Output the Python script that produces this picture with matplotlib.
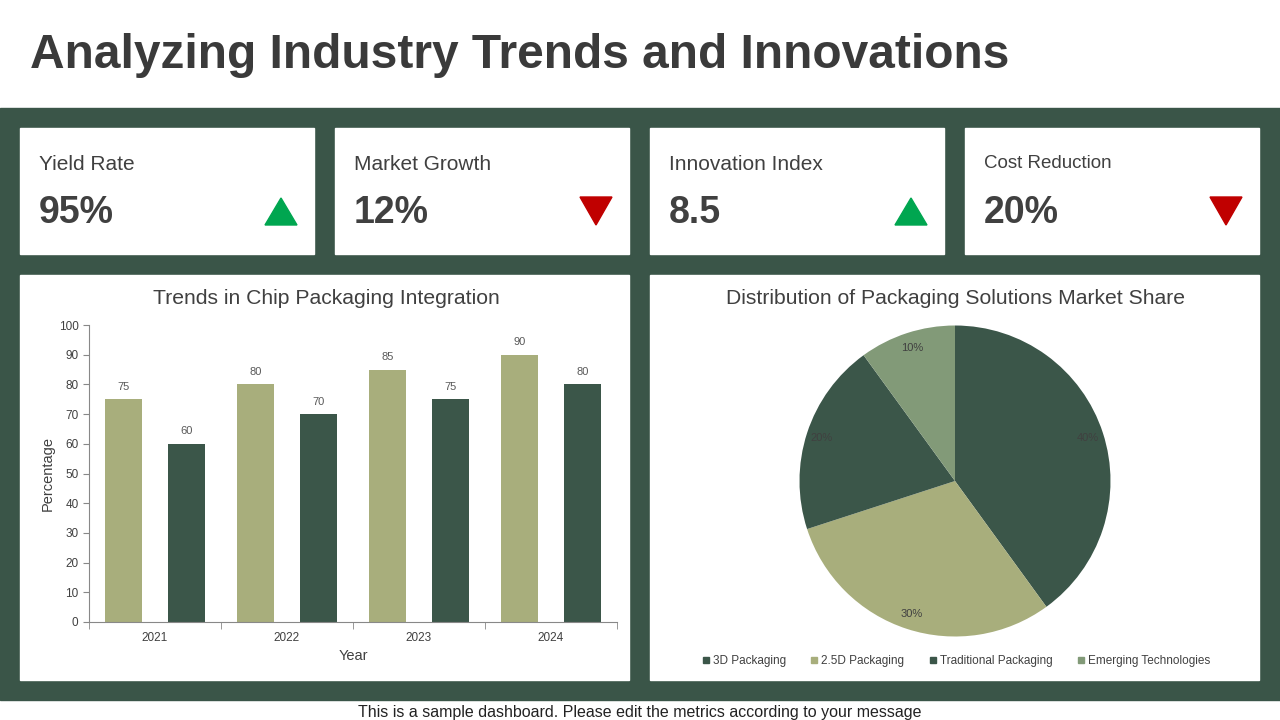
import matplotlib
matplotlib.use('Agg')
import matplotlib.pyplot as plt
from matplotlib.patches import Rectangle, Polygon
from matplotlib.lines import Line2D
import numpy as np

plt.rcParams['font.family'] = ['Liberation Sans', 'DejaVu Sans']

# data
kpi_labels = ['Yield Rate', 'Market Growth', 'Innovation Index', 'Cost Reduction']
kpi_values = ['95%', '12%', '8.5', '20%']
kpi_up = [True, False, True, False]
kpi_label_size = [15, 15, 15, 13.5]

years = ['2021', '2022', '2023', '2024']
series_a = [75, 80, 85, 90]
series_b = [60, 70, 75, 80]

pie_labels = ['3D Packaging', '2.5D Packaging', 'Traditional Packaging', 'Emerging Technologies']
pie_values = [40, 30, 20, 10]

DARK = '#3B5649'
LIGHT = '#A8AE7C'
MID = '#829A78'
TXT = '#404040'
W, H = 1280, 720


def fr(x0, y0, x1, y1):
    # pixel box (top-left origin) -> figure fraction rect
    return [x0 / W, (H - y1) / H, (x1 - x0) / W, (y1 - y0) / H]


fig = plt.figure(figsize=(12.8, 7.2), dpi=100)
fig.patch.set_facecolor('white')

bg = fig.add_axes([0, 0, 1, 1])
bg.set_xlim(0, W)
bg.set_ylim(H, 0)
bg.axis('off')

bg.add_patch(Rectangle((0, 108), W, 592, color='#3A5548'))
bg.text(30, 56, 'Analyzing Industry Trends and Innovations', fontsize=34.5,
        fontweight='bold', color='#3A3A3A', va='center', ha='left')
bg.text(640, 712, 'This is a sample dashboard. Please edit the metrics according to your message',
        fontsize=11.5, color='#222222', ha='center', va='center')

# KPI cards
card_x = [20, 335, 650, 965]
for i in range(4):
    x0 = card_x[i]
    bg.add_patch(Rectangle((x0, 128), 294, 126, color='white'))
    bg.text(x0 + 19, 164, kpi_labels[i], fontsize=kpi_label_size[i], color=TXT, va='center')
    bg.text(x0 + 19, 213, kpi_values[i], fontsize=27, fontweight='bold', color=TXT, va='center')
    tx = x0 + 261
    if kpi_up[i]:
        tri = [(tx - 16, 225), (tx + 16, 225), (tx, 198)]
        col = '#00A650'
    else:
        tri = [(tx - 16, 197), (tx + 16, 197), (tx, 225)]
        col = '#C00000'
    bg.add_patch(Polygon(tri, closed=True, color=col))

# chart panels
bg.add_patch(Rectangle((20, 275), 609, 405, color='white'))
bg.add_patch(Rectangle((650, 275), 609, 405, color='white'))

# bar chart
ax = fig.add_axes(fr(89, 325, 617, 622))
x = np.arange(len(years))
bars_a = ax.bar(x - 0.24, series_a, width=0.28, color=LIGHT)
bars_b = ax.bar(x + 0.24, series_b, width=0.28, color=DARK)
for bars in (bars_a, bars_b):
    for b in bars:
        ax.text(b.get_x() + b.get_width() / 2, b.get_height() + 2.5, str(int(b.get_height())),
                ha='center', va='bottom', fontsize=8, color='#595959')
ax.set_xlim(-0.5, len(years) - 0.5)
ax.set_ylim(0, 100)
ax.set_yticks(range(0, 101, 10))
ax.set_xticks(x)
ax.set_xticklabels(years)
ax.set_xticks(np.arange(-0.5, len(years)), minor=True)
ax.tick_params(axis='x', which='major', length=0, labelsize=8.5, labelcolor=TXT, pad=7)
ax.tick_params(axis='x', which='minor', length=5, color='#888888', direction='out')
ax.tick_params(axis='y', length=4, color='#888888', labelsize=8.5, labelcolor=TXT)
for s in ['top', 'right']:
    ax.spines[s].set_visible(False)
for s in ['left', 'bottom']:
    ax.spines[s].set_color('#888888')
ax.set_ylabel('Percentage', fontsize=10.5, color=TXT, labelpad=3)
ax.set_xlabel('Year', fontsize=10.5, color=TXT, labelpad=4)
bg.text(326, 298, 'Trends in Chip Packaging Integration', fontsize=15.2, color=TXT,
        ha='center', va='center')

# pie chart
r = 155.5
pax = fig.add_axes(fr(955 - r, 481 - r, 955 + r, 481 + r))
pie_colors = [DARK, LIGHT, DARK, MID]
wedges, texts, autotexts = pax.pie(pie_values, colors=pie_colors, startangle=90, counterclock=False,
                                   autopct='%1.0f%%', pctdistance=0.9, radius=1,
                                   textprops={'fontsize': 8, 'color': '#404040'})
pax.set_xlim(-1, 1)
pax.set_ylim(-1, 1)
pax.axis('off')
bg.text(955, 298, 'Distribution of Packaging Solutions Market Share', fontsize=15.2, color=TXT,
        ha='center', va='center')

handles = [Line2D([], [], marker='s', linestyle='', color=c, markersize=5) for c in pie_colors]
fig.legend(handles, pie_labels, loc='center', bbox_to_anchor=(955 / W, (H - 661) / H), ncol=4,
           frameon=False, fontsize=8.5, handletextpad=0.1, columnspacing=1.9, handlelength=1,
           labelcolor=TXT)

fig.savefig('out.png', dpi=100)
